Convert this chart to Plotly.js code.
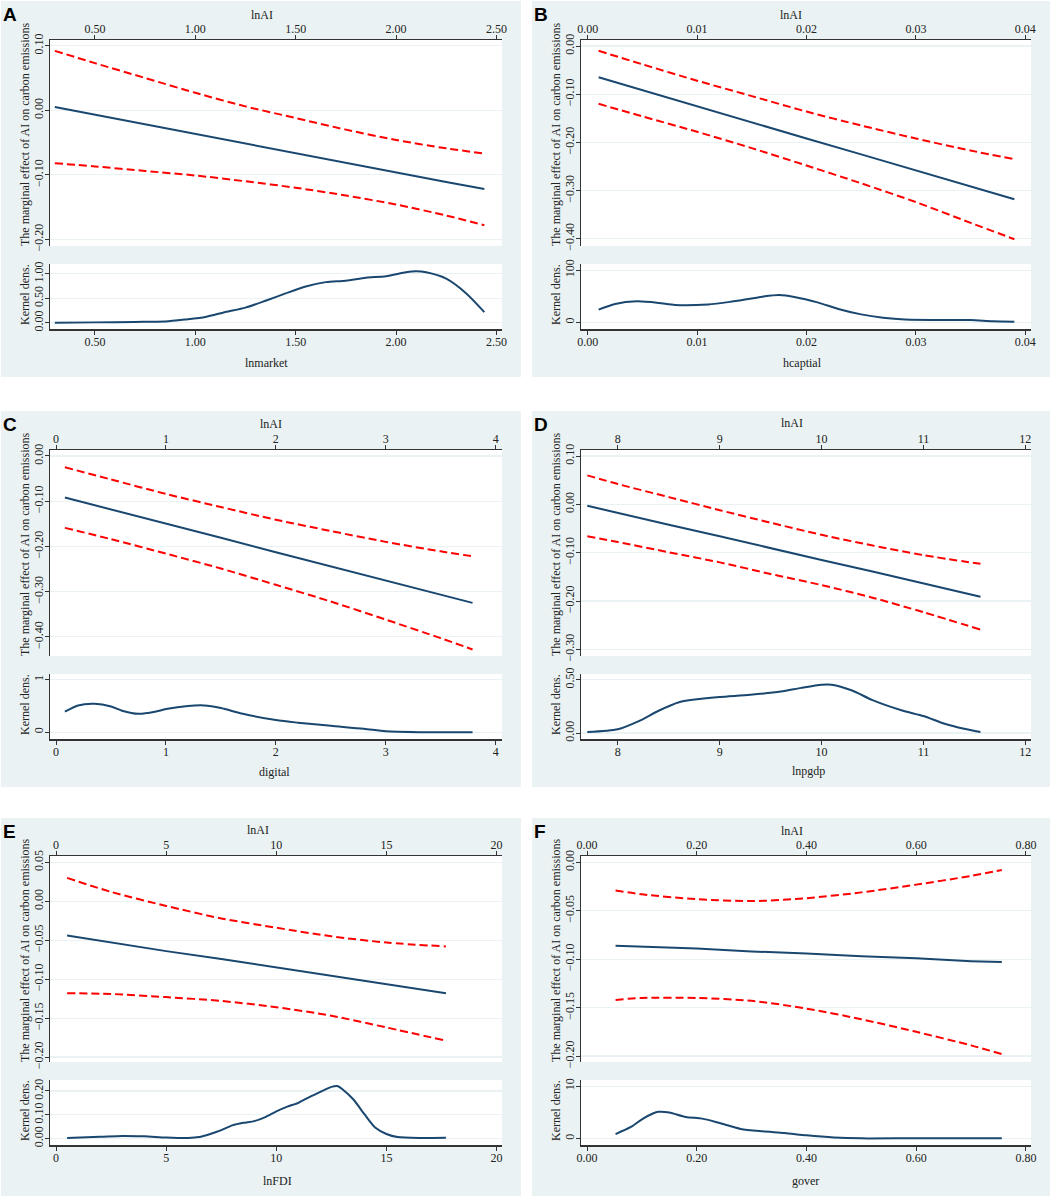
<!DOCTYPE html>
<html><head><meta charset="utf-8">
<script src="https://cdn.plot.ly/plotly-3.0.1.min.js"></script>
<style>
html,body{margin:0;padding:0;background:#fff;}
#wrap{position:relative;width:1052px;height:1196px;overflow:hidden;}
.pnl{position:absolute;}
</style></head><body><div id="wrap">
<div id="pA" class="pnl" style="left:1px;top:1px;width:520px;height:376px"></div>
<div id="pB" class="pnl" style="left:532px;top:1px;width:518px;height:376px"></div>
<div id="pC" class="pnl" style="left:1px;top:411px;width:520px;height:376px"></div>
<div id="pD" class="pnl" style="left:532px;top:411px;width:518px;height:376px"></div>
<div id="pE" class="pnl" style="left:1px;top:818px;width:520px;height:378px"></div>
<div id="pF" class="pnl" style="left:532px;top:818px;width:518px;height:378px"></div>
</div>
<script>
// ---------- Panel A: lnmarket ----------
const A_x   = [0.30,0.50,0.75,1.00,1.25,1.50,1.75,2.00,2.25,2.44];
const A_fit = [0.005,-0.007,-0.022,-0.037,-0.052,-0.066,-0.081,-0.096,-0.111,-0.122];
const A_hi  = [0.092,0.073,0.050,0.027,0.006,-0.012,-0.030,-0.046,-0.059,-0.067];
const A_lo  = [-0.082,-0.087,-0.094,-0.101,-0.110,-0.120,-0.132,-0.146,-0.163,-0.178];
const A_kx  = [0.30,0.50,0.70,0.85,0.95,1.05,1.15,1.25,1.35,1.45,1.55,1.65,1.75,1.85,1.95,2.05,2.10,2.15,2.25,2.35,2.44];
const A_ky  = [0.00,0.01,0.02,0.03,0.07,0.12,0.22,0.31,0.45,0.60,0.74,0.83,0.86,0.92,0.95,1.03,1.05,1.03,0.90,0.60,0.22];
const A_xt  = [0.5,1.0,1.5,2.0,2.5];
const A_yt  = [-0.2,-0.1,0,0.1];
const A_kt  = [0,0.5,1];

// ---------- Panel B: hcaptial ----------
const B_x   = [0.001,0.005,0.010,0.015,0.020,0.025,0.030,0.035,0.039];
const B_fit = [-0.065,-0.092,-0.125,-0.158,-0.192,-0.225,-0.258,-0.292,-0.318];
const B_hi  = [-0.010,-0.038,-0.072,-0.104,-0.136,-0.165,-0.192,-0.217,-0.235];
const B_lo  = [-0.120,-0.146,-0.178,-0.212,-0.248,-0.285,-0.324,-0.367,-0.401];
const B_kx  = [0.001,0.0025,0.0045,0.0065,0.008,0.011,0.013,0.016,0.0175,0.019,0.021,0.023,0.025,0.027,0.029,0.033,0.035,0.037,0.039];
const B_ky  = [24,35,40,37,33,34,39,49,52,48,38,25,15,8.5,5,4,4,2,1];
const B_xt  = [0,0.01,0.02,0.03,0.04];
const B_yt  = [-0.4,-0.3,-0.2,-0.1,0];
const B_kt  = [0,100];

// ---------- Panel C: digital ----------
const C_x   = [0.08,0.5,1.0,1.5,2.0,2.5,3.0,3.5,3.79];
const C_fit = [-0.092,-0.118,-0.150,-0.181,-0.213,-0.244,-0.276,-0.307,-0.325];
const C_hi  = [-0.025,-0.052,-0.084,-0.113,-0.141,-0.166,-0.190,-0.211,-0.222];
const C_lo  = [-0.159,-0.184,-0.216,-0.249,-0.285,-0.322,-0.362,-0.403,-0.428];
const C_kx  = [0.08,0.2,0.35,0.5,0.6,0.75,0.9,1.0,1.2,1.35,1.5,1.7,2.0,2.2,2.5,2.8,3.0,3.3,3.79];
const C_ky  = [0.39,0.51,0.54,0.49,0.41,0.35,0.39,0.44,0.50,0.51,0.46,0.35,0.23,0.18,0.12,0.065,0.015,0.0,0.0];
const C_xt  = [0,1,2,3,4];
const C_yt  = [-0.4,-0.3,-0.2,-0.1,0];
const C_kt  = [0,1];

// ---------- Panel D: lnpgdp ----------
const D_x   = [7.70,8.0,8.5,9.0,9.5,10.0,10.5,11.0,11.56];
const D_fit = [-0.003,-0.018,-0.042,-0.066,-0.091,-0.115,-0.139,-0.164,-0.191];
const D_hi  = [0.060,0.042,0.015,-0.012,-0.038,-0.063,-0.085,-0.105,-0.123];
const D_lo  = [-0.066,-0.078,-0.099,-0.120,-0.144,-0.167,-0.193,-0.223,-0.259];
const D_kx  = [7.70,8.0,8.2,8.4,8.6,8.8,9.0,9.3,9.6,9.8,10.0,10.1,10.3,10.5,10.8,11.0,11.2,11.4,11.56];
const D_ky  = [0.01,0.036,0.11,0.21,0.29,0.32,0.34,0.36,0.39,0.425,0.455,0.455,0.40,0.31,0.21,0.16,0.09,0.04,0.01];
const D_xt  = [8,9,10,11,12];
const D_yt  = [-0.3,-0.2,-0.1,0,0.1];
const D_kt  = [0,0.5];

// ---------- Panel E: lnFDI ----------
const E_x   = [0.5,2.5,5,7.5,10,12.5,15,17.7];
const E_fit = [-0.044,-0.053,-0.064,-0.074,-0.085,-0.096,-0.107,-0.118];
const E_hi  = [0.030,0.012,-0.006,-0.022,-0.034,-0.045,-0.053,-0.058];
const E_lo  = [-0.118,-0.119,-0.123,-0.128,-0.136,-0.147,-0.162,-0.179];
const E_kx  = [0.5,2,3,4,5,6,6.5,7,7.5,8,8.5,9,9.5,10,10.5,11,11.5,12,12.5,12.8,13,13.5,14,14.5,15,15.5,16.5,17.7];
const E_ky  = [0.002,0.007,0.011,0.009,0.004,0.002,0.006,0.019,0.035,0.055,0.066,0.073,0.09,0.114,0.134,0.15,0.174,0.196,0.217,0.22,0.207,0.164,0.102,0.045,0.019,0.006,0.002,0.003];
const E_xt  = [0,5,10,15,20];
const E_yt  = [-0.2,-0.15,-0.1,-0.05,0,0.05];
const E_kt  = [0,0.1,0.2];

// ---------- Panel F: gover ----------
const F_x   = [0.052,0.10,0.20,0.30,0.40,0.50,0.60,0.70,0.756];
const F_fit = [-0.086,-0.087,-0.089,-0.092,-0.094,-0.097,-0.099,-0.102,-0.103];
const F_hi  = [-0.029,-0.033,-0.038,-0.040,-0.037,-0.031,-0.023,-0.014,-0.008];
const F_lo  = [-0.142,-0.140,-0.140,-0.143,-0.151,-0.162,-0.175,-0.189,-0.198];
const F_kx  = [0.052,0.08,0.10,0.12,0.13,0.15,0.18,0.21,0.24,0.28,0.32,0.36,0.40,0.45,0.50,0.60,0.70,0.756];
const F_ky  = [0.85,2.2,3.66,4.77,5.1,4.97,4.1,3.8,3.0,1.83,1.37,1.05,0.6,0.2,0.03,0.07,0.05,0.05];
const F_xt  = [0,0.2,0.4,0.6,0.8];
const F_yt  = [-0.2,-0.15,-0.1,-0.05,0];
const F_kt  = [0,10];

const xLabels = ['lnmarket','hcaptial','digital','lnpgdp','lnFDI','gover'];
const letters = ['A','B','C','D','E','F'];
const topLabel = 'lnAI';
const yMainLabel = 'The marginal effect of AI on carbon emissions';
const yKernLabel = 'Kernel dens.';

const BG = 'rgb(234,242,243)';
const NAVY = '#1a476f';
const RED = '#ff0000';
const AX = '#333333';
const FONT = 'Liberation Serif, "Times New Roman", serif';
const TXT = '#222222';

function axBase(){
  return {ticks:'outside', ticklen:4, tickwidth:1, tickcolor:AX, showline:true, linecolor:AX, linewidth:1.5,
          zeroline:false, ticklabelstandoff:-3, tickfont:{family:FONT,size:12,color:TXT}, fixedrange:true};
}

function panel(id, letter, xlab, d, cfg){
  const W = cfg.w, H = cfg.h;
  const m = {l:49, r:19, t:cfg.t, b:cfg.b};
  const pw = W - m.l - m.r, ph = H - m.t - m.b;
  const px = v => (v - m.l) / pw;          // panel pixel -> paper x
  const py = v => 1 - (v - m.t) / ph;      // panel pixel -> paper y
  const traces = [
    {x:d.x, y:d.hi, xaxis:'x', yaxis:'y', mode:'lines', hoverinfo:'skip',
     line:{color:RED, width:2, dash:'8px,4px', shape:'spline', smoothing:0.8}},
    {x:d.x, y:d.lo, xaxis:'x', yaxis:'y', mode:'lines', hoverinfo:'skip',
     line:{color:RED, width:2, dash:'8px,4px', shape:'spline', smoothing:0.8}},
    {x:d.x, y:d.fit, xaxis:'x', yaxis:'y', mode:'lines', hoverinfo:'skip',
     line:{color:NAVY, width:2}},
    {x:d.kx, y:d.ky, xaxis:'x2', yaxis:'y2', mode:'lines', hoverinfo:'skip',
     line:{color:NAVY, width:2, shape:'spline', smoothing:0.7}}
  ];
  const tf = {family:FONT, size:12, color:TXT};
  const layout = {
    width:W, height:H, margin:m, paper_bgcolor:BG, plot_bgcolor:'#ffffff', showlegend:false,
    font:{family:FONT, size:12, color:TXT},
    xaxis:Object.assign(axBase(), {domain:[0,1], anchor:'y', side:'top', range:cfg.xr, tickvals:d.xt,
      tickformat:cfg.xf, showgrid:false}),
    xaxis2:Object.assign(axBase(), {domain:[0,1], anchor:'y2', side:'bottom', range:cfg.xr, tickvals:d.xt,
      tickformat:cfg.xf, showgrid:false}),
    yaxis:Object.assign(axBase(), {domain:[0.287,1], anchor:'x', range:cfg.yr, tickvals:d.yt, tickformat:'.2f',
      tickangle:-90, showgrid:true, gridcolor:BG, gridwidth:1.2}),
    yaxis2:Object.assign(axBase(), {domain:[0,0.225], anchor:'x2', range:cfg.kr, tickvals:d.kt, tickformat:cfg.kf,
      tickangle:-90, showgrid:true, gridcolor:BG, gridwidth:1.2}),
    annotations:[
      {text:'<b>'+letter+'</b>', xref:'paper', yref:'paper', x:px(0), y:py(0),
       xanchor:'left', yanchor:'top', showarrow:false, xshift:0, yshift:-1,
       font:{family:'Liberation Sans, Arial, sans-serif', size:19, color:'#000'}},
      {text:topLabel, xref:'paper', yref:'paper', x:px(cfg.topX), y:py(cfg.topY),
       xanchor:'center', yanchor:'middle', showarrow:false, font:tf},
      {text:xlab, xref:'paper', yref:'paper', x:px(cfg.botX), y:py(cfg.botY),
       xanchor:'center', yanchor:'middle', showarrow:false, font:tf},
      {text:yMainLabel, xref:'paper', yref:'paper', x:px(24), y:py(cfg.t + 95),
       xanchor:'center', yanchor:'middle', textangle:-90, showarrow:false, font:tf},
      {text:yKernLabel, xref:'paper', yref:'paper', x:px(24), y:py(H - cfg.b - 34),
       xanchor:'center', yanchor:'middle', textangle:-90, showarrow:false, font:tf}
    ]
  };
  Plotly.newPlot(id, traces, layout, {displayModeBar:false, staticPlot:true});
}

panel('pA','A',xLabels[0],{x:A_x,fit:A_fit,hi:A_hi,lo:A_lo,kx:A_kx,ky:A_ky,xt:A_xt,yt:A_yt,kt:A_kt},
  {w:520,h:376,t:39,b:48,xr:[0.276,2.528],yr:[-0.2103,0.1088],kr:[-0.125,1.2],xf:'.2f',kf:'.2f',
   topX:261,topY:14,botX:265,botY:362});
panel('pB','B',xLabels[1],{x:B_x,fit:B_fit,hi:B_hi,lo:B_lo,kx:B_kx,ky:B_ky,xt:B_xt,yt:B_yt,kt:B_kt},
  {w:518,h:376,t:39,b:48,xr:[-0.00061,0.04052],yr:[-0.4152,0.01246],kr:[-13.1,111.8],xf:'.2f',kf:'d',
   topX:259,topY:14,botX:270,botY:362});
panel('pC','C',xLabels[2],{x:C_x,fit:C_fit,hi:C_hi,lo:C_lo,kx:C_kx,ky:C_ky,xt:C_xt,yt:C_yt,kt:C_kt},
  {w:520,h:376,t:39,b:48,xr:[-0.0554,4.058],yr:[-0.4426,0.0132],kr:[-0.131,1.111],xf:'d',kf:'d',
   topX:270,topY:13,botX:273,botY:361});
panel('pD','D',xLabels[3],{x:D_x,fit:D_fit,hi:D_hi,lo:D_lo,kx:D_kx,ky:D_ky,xt:D_xt,yt:D_yt,kt:D_kt},
  {w:518,h:376,t:39,b:48,xr:[7.638,12.056],yr:[-0.3137,0.1124],kr:[-0.0556,0.5556],xf:'d',kf:'.2f',
   topX:260,topY:12,botX:276,botY:360});
panel('pE','E',xLabels[4],{x:E_x,fit:E_fit,hi:E_hi,lo:E_lo,kx:E_kx,ky:E_ky,xt:E_xt,yt:E_yt,kt:E_kt},
  {w:520,h:378,t:38,b:51,xr:[-0.277,20.246],yr:[-0.2064,0.0581],kr:[-0.0273,0.246],xf:'d',kf:'.2f',
   topX:257,topY:12,botX:276,botY:363});
panel('pF','F',xLabels[5],{x:F_x,fit:F_fit,hi:F_hi,lo:F_lo,kx:F_kx,ky:F_ky,xt:F_xt,yt:F_yt,kt:F_kt},
  {w:518,h:378,t:38,b:51,xr:[-0.011,0.8092],yr:[-0.2062,0.00655],kr:[-1.24,11.18],xf:'.2f',kf:'d',
   topX:260,topY:13,botX:273,botY:363});
</script>
</body></html>
